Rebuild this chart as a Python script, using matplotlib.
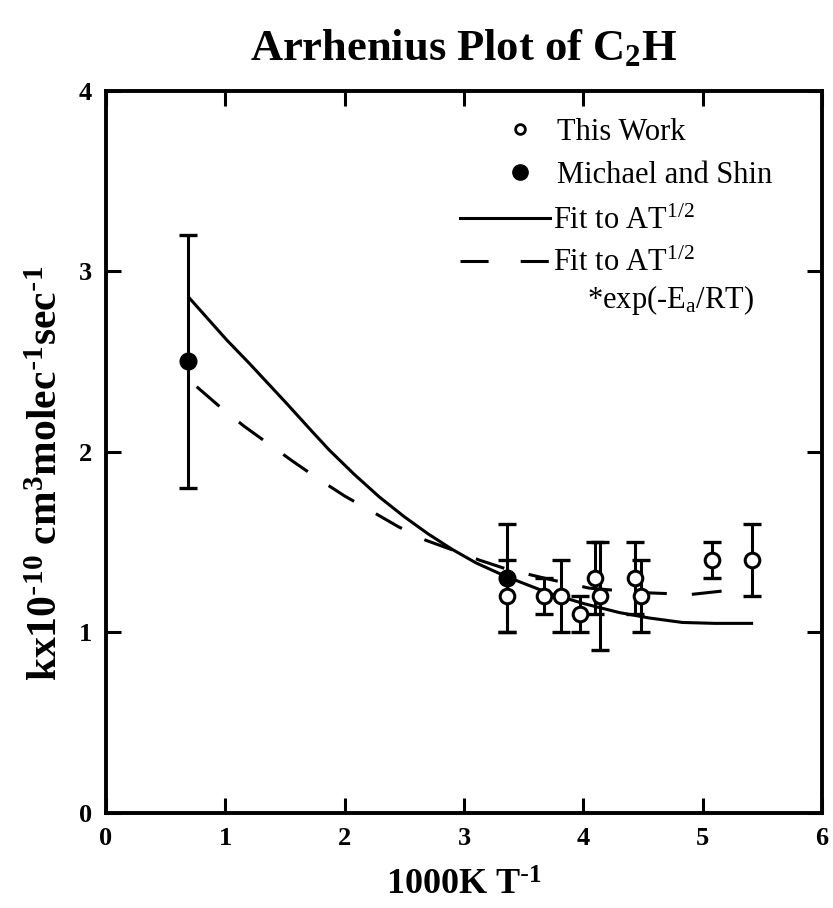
import matplotlib
matplotlib.use("Agg")
import matplotlib.pyplot as plt
from matplotlib.lines import Line2D

plt.rcParams['font.family'] = ['Liberation Serif', 'DejaVu Serif']
plt.rcParams['mathtext.default'] = 'regular'

# This Work (open circles)
work_x = [3.36, 3.67, 3.81, 3.97, 4.10, 4.14, 4.43, 4.48, 5.08, 5.41]
work_k = [1.2, 1.2, 1.2, 1.1, 1.3, 1.2, 1.3, 1.2, 1.4, 1.4]
work_err = [0.2, 0.1, 0.2, 0.1, 0.2, 0.3, 0.2, 0.2, 0.1, 0.2]

# Michael and Shin (filled circles)
ms_x = [0.69, 3.36]
ms_k = [2.5, 1.3]
ms_err = [0.7, 0.3]

# fit to A T^1/2
fit1_x = [0.70, 1.01, 1.20, 1.51, 1.73, 1.87, 2.08, 2.29, 2.50, 2.70, 2.90, 3.10,
          3.35, 3.70, 4.00, 4.30, 4.55, 4.83, 5.10, 5.41]
fit1_k = [2.85, 2.62, 2.49, 2.27, 2.11, 2.01, 1.875, 1.75, 1.64, 1.545, 1.46, 1.385,
          1.31, 1.22, 1.16, 1.11, 1.08, 1.055, 1.05, 1.05]

# fit to A T^1/2 exp(-Ea/RT)
fit2_x = [0.76, 0.97, 1.16, 1.37, 1.57, 1.79, 2.00, 2.24, 2.45, 2.68, 2.91, 3.13,
          3.36, 3.74, 4.05, 4.50, 4.90, 5.18]
fit2_k = [2.36, 2.24, 2.14, 2.04, 1.945, 1.845, 1.755, 1.665, 1.585, 1.51, 1.455, 1.40,
          1.35, 1.29, 1.245, 1.22, 1.21, 1.23]

fig = plt.figure(figsize=(8.33, 9.08), dpi=100)
ax = fig.add_axes([0.1273, 0.1046, 0.8595, 0.7957])

dash = (0, (9.8, 8.2))
ax.plot(fit1_x, fit1_k, color='black', lw=2.2, zorder=2)
ax.plot(fit2_x, fit2_k, color='black', lw=2.2, linestyle=dash, zorder=2)

ax.errorbar(work_x, work_k, yerr=work_err, fmt='none', ecolor='black',
            elinewidth=2.2, capsize=6.5, capthick=2.4, zorder=3)
ax.errorbar(ms_x, ms_k, yerr=ms_err, fmt='none', ecolor='black',
            elinewidth=2.2, capsize=6.5, capthick=2.4, zorder=3)
ax.plot(work_x, work_k, 'o', ms=10.5, mfc='white', mec='black', mew=2.2,
        linestyle='none', zorder=4)
ax.plot(ms_x, ms_k, 'o', ms=12, mfc='black', mec='black', linestyle='none', zorder=5)

ax.set_xlim(0, 6)
ax.set_ylim(0, 4)
ax.set_xticks(range(7))
ax.set_yticks(range(5))
ax.tick_params(direction='in', length=11, width=2.2, top=True, right=True,
               labelsize=19, pad=10)
for lab in ax.get_xticklabels() + ax.get_yticklabels():
    lab.set_fontweight('bold')
for sp in ax.spines.values():
    sp.set_linewidth(2.8)

ax.set_title('Arrhenius Plot of C$_2$H', fontsize=32, fontweight='bold', pad=22)
ax.set_xlabel(r'1000K T$^{\text{-}1}$', fontsize=26, fontweight='bold', labelpad=14)
ax.set_ylabel(r'kx10$^{\text{-}10}$ cm$^3$molec$^{\text{-}1}$sec$^{\text{-}1}$',
              fontsize=30, fontweight='bold')
ax.yaxis.set_label_coords(-0.056, 0.47)

# legend: markers
h_open = Line2D([], [], marker='o', ms=7, mfc='white', mec='black', mew=2, linestyle='none')
h_fill = Line2D([], [], marker='o', ms=11, mfc='black', mec='black', linestyle='none')
leg1 = ax.legend([h_open, h_fill], ['This Work', 'Michael and Shin'],
                 loc='upper left', bbox_to_anchor=(0.557, 0.962), frameon=False,
                 fontsize=22, handlelength=1.0, handletextpad=0.7, borderpad=0,
                 borderaxespad=0, labelspacing=0.46)
ax.add_artist(leg1)

h_solid = Line2D([], [], color='black', lw=2.2)
h_dash = Line2D([], [], color='black', lw=2.2, linestyle=(0, (9.2, 10.5)))
ax.legend([h_solid, h_dash], ['Fit to AT$^{1/2}$', 'Fit to AT$^{1/2}$'],
          loc='upper left', bbox_to_anchor=(0.494, 0.839), frameon=False,
          fontsize=22, handlelength=2.94, handletextpad=0.1, borderpad=0,
          borderaxespad=0, labelspacing=0.43)
ax.text(0.672, 0.710, '*exp(-E$_a$/RT)', transform=ax.transAxes, fontsize=22,
        va='center', ha='left')

fig.savefig('out.png', dpi=100)
